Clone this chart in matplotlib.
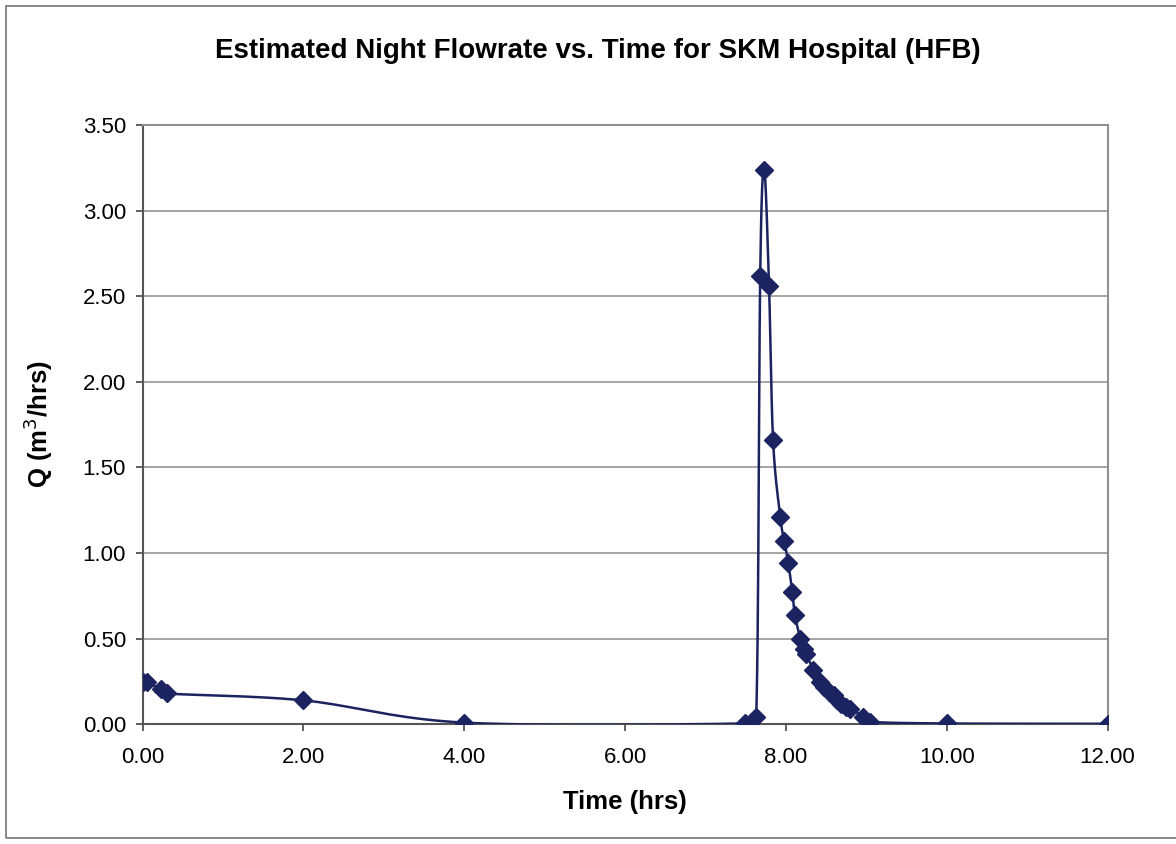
import numpy as np
import matplotlib
matplotlib.use("Agg")
import matplotlib.pyplot as plt
from matplotlib.patches import Rectangle

plt.rcParams['font.family'] = ['Liberation Sans', 'DejaVu Sans']

# Time (hrs) and estimated flowrate Q (m3/hrs)
time_hrs = [0.00, 0.05, 0.23, 0.30, 2.00, 4.00, 7.49, 7.63, 7.68, 7.73, 7.79,
            7.84, 7.93, 7.98, 8.03, 8.08, 8.11, 8.18, 8.22, 8.25, 8.34, 8.43,
            8.47, 8.53, 8.60, 8.64, 8.68, 8.75, 8.80, 8.96, 9.04, 10.00, 12.00]
q_flow = [0.25, 0.245, 0.205, 0.18, 0.14, 0.01, 0.005, 0.04, 2.62, 3.24, 2.56,
          1.66, 1.21, 1.07, 0.94, 0.77, 0.64, 0.50, 0.44, 0.41, 0.32, 0.25,
          0.22, 0.19, 0.17, 0.14, 0.12, 0.10, 0.09, 0.045, 0.015, 0.005, 0.003]

x_ticks = [0, 2, 4, 6, 8, 10, 12]
y_ticks = [0, 0.5, 1.0, 1.5, 2.0, 2.5, 3.0, 3.5]

navy = '#1b2360'


# smoothed line like the spreadsheet "smoothed line" option (Catmull-Rom)
def smooth(xs, ys, n=20):
    p = np.column_stack([xs, ys]).astype(float)
    p = np.vstack([p[0], p, p[-1]])
    out = []
    t = np.linspace(0, 1, n, endpoint=False)[:, None]
    for i in range(1, len(p) - 2):
        p0, p1, p2, p3 = p[i - 1], p[i], p[i + 1], p[i + 2]
        c1 = p1 + (p2 - p0) / 6
        c2 = p2 - (p3 - p1) / 6
        seg = ((1 - t) ** 3) * p1 + 3 * ((1 - t) ** 2) * t * c1 + 3 * (1 - t) * t ** 2 * c2 + t ** 3 * p2
        out.append(seg)
    out.append(p[-2][None, :])
    out = np.vstack(out)
    return out[:, 0], out[:, 1]


fig = plt.figure(figsize=(11.76, 8.44), dpi=100)
ax = fig.add_axes([0.1213, 0.1418, 0.8205, 0.7101])

sx, sy = smooth(time_hrs, q_flow)
ax.plot(sx, sy, color=navy, lw=1.8, zorder=3)
ax.plot(time_hrs, q_flow, ls='none', marker='D', ms=9.5, color=navy, zorder=4)

ax.set_xlim(0, 12)
ax.set_ylim(0, 3.5)
ax.set_xticks(x_ticks)
ax.set_yticks(y_ticks)
ax.set_xticklabels([f"{v:.2f}" for v in x_ticks])
ax.set_yticklabels([f"{v:.2f}" for v in y_ticks])
ax.tick_params(axis='both', labelsize=16, color='#444444', length=5, width=1.2)
ax.tick_params(axis='x', pad=11)
ax.tick_params(axis='y', pad=7)
ax.grid(axis='y', color='#8c8c8c', lw=1.1)
ax.set_axisbelow(True)

for s in ['top', 'right']:
    ax.spines[s].set_color('#909090')
    ax.spines[s].set_linewidth(1.5)
for s in ['left', 'bottom']:
    ax.spines[s].set_color('#555555')
    ax.spines[s].set_linewidth(1.5)

ax.set_xlabel("Time (hrs)", fontsize=18.5, fontweight='bold', labelpad=16)
ax.set_ylabel("Q (m$^3$/hrs)", fontsize=18.5, fontweight='bold', labelpad=20)
fig.text(0.508, 0.939, "Estimated Night Flowrate vs. Time for SKM Hospital (HFB)",
         ha='center', va='center', fontsize=20, fontweight='bold')

# outer chart border
fig.patches.append(Rectangle((6 / 1176, 6 / 844), 1.1, 838 / 844 - 6 / 844,
                             transform=fig.transFigure, fill=False,
                             edgecolor='#777777', lw=1.2))

fig.savefig("out.png", dpi=100)
